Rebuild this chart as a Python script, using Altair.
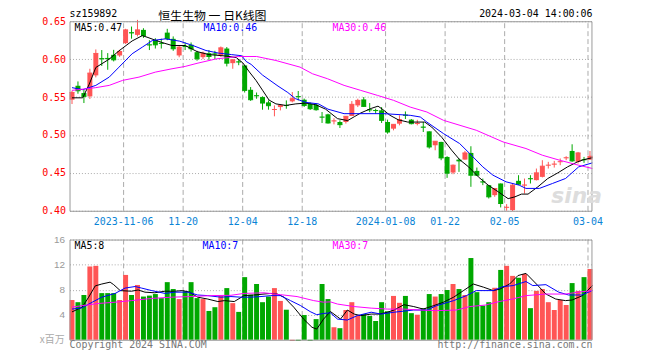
import altair as alt
import pandas as pd

# ---------------- data ----------------
opens = [0.5465, 0.5649, 0.5553, 0.5509, 0.5786, 0.6013, 0.6016, 0.6057, 0.6048, 0.6211,
         0.6354, 0.6320, 0.6386, 0.6193, 0.6254, 0.6214, 0.6350, 0.6268, 0.6049, 0.6174,
         0.6190, 0.6092, 0.6026, 0.6079, 0.6073, 0.6048, 0.6140, 0.5947, 0.5968, 0.5917,
         0.5596, 0.5523, 0.5500, 0.5430, 0.5330, 0.5368, 0.5392, 0.5443, 0.5510, 0.5465,
         0.5412, 0.5400, 0.5239, 0.5272, 0.5182, 0.5171, 0.5171, 0.5250, 0.5390, 0.5469,
         0.5336, 0.5328, 0.5325, 0.5171, 0.5083, 0.5149, 0.5266, 0.5202, 0.5147, 0.5108,
         0.5048, 0.4864, 0.4908, 0.4710, 0.4504, 0.4675, 0.4675, 0.4763, 0.4526, 0.4385,
         0.4338, 0.4206, 0.4360, 0.4042, 0.4009, 0.4395, 0.4336, 0.4428, 0.4404, 0.4447,
         0.4598, 0.4612, 0.4643, 0.4695, 0.4789, 0.4645, 0.4677, 0.4675]
closes = [0.5561, 0.5583, 0.5509, 0.5816, 0.6075, 0.6005, 0.6008, 0.5991, 0.6101, 0.6386,
          0.6346, 0.6386, 0.6311, 0.6187, 0.6189, 0.6208, 0.6270, 0.6137, 0.6158, 0.6168,
          0.6137, 0.6005, 0.6079, 0.6035, 0.6067, 0.6149, 0.5947, 0.5991, 0.5962, 0.5588,
          0.5465, 0.5517, 0.5421, 0.5386, 0.5336, 0.5390, 0.5388, 0.5478, 0.5505, 0.5390,
          0.5346, 0.5333, 0.5235, 0.5158, 0.5186, 0.5136, 0.5246, 0.5404, 0.5456, 0.5377,
          0.5330, 0.5322, 0.5193, 0.5039, 0.5140, 0.5202, 0.5260, 0.5149, 0.5151, 0.5102,
          0.4842, 0.4917, 0.4697, 0.4496, 0.4601, 0.4658, 0.4763, 0.4469, 0.4469, 0.4379,
          0.4184, 0.4294, 0.4096, 0.4046, 0.4338, 0.4351, 0.4340, 0.4422, 0.4500, 0.4588,
          0.4602, 0.4616, 0.4647, 0.4699, 0.4658, 0.4763, 0.4673, 0.4719]
highs = [0.5583, 0.5706, 0.5596, 0.5873, 0.6128, 0.6120, 0.6080, 0.6123, 0.6123, 0.6400,
         0.6430, 0.6518, 0.6408, 0.6250, 0.6276, 0.6270, 0.6400, 0.6300, 0.6175, 0.6220,
         0.6220, 0.6110, 0.6100, 0.6120, 0.6110, 0.6167, 0.6160, 0.6000, 0.6000, 0.5925,
         0.5632, 0.5560, 0.5510, 0.5456, 0.5390, 0.5400, 0.5456, 0.5566, 0.5580, 0.5480,
         0.5430, 0.5412, 0.5303, 0.5280, 0.5220, 0.5193, 0.5250, 0.5447, 0.5478, 0.5500,
         0.5421, 0.5346, 0.5368, 0.5202, 0.5140, 0.5259, 0.5310, 0.5210, 0.5200, 0.5171,
         0.5048, 0.4920, 0.4910, 0.4720, 0.4610, 0.4690, 0.4790, 0.4851, 0.4570, 0.4425,
         0.4338, 0.4294, 0.4360, 0.4088, 0.4360, 0.4469, 0.4425, 0.4469, 0.4557, 0.4667,
         0.4645, 0.4658, 0.4690, 0.4720, 0.4877, 0.4776, 0.4710, 0.4789]
lows = [0.5408, 0.5544, 0.5421, 0.5475, 0.5760, 0.5910, 0.5860, 0.5970, 0.6030, 0.6200,
        0.6270, 0.6300, 0.6280, 0.6120, 0.6140, 0.6140, 0.6250, 0.6110, 0.6025, 0.6120,
        0.6100, 0.5980, 0.6000, 0.5990, 0.6000, 0.6030, 0.5904, 0.5873, 0.5920, 0.5560,
        0.5450, 0.5478, 0.5333, 0.5333, 0.5246, 0.5324, 0.5346, 0.5430, 0.5456, 0.5370,
        0.5330, 0.5320, 0.5158, 0.5150, 0.5140, 0.5092, 0.5150, 0.5250, 0.5368, 0.5370,
        0.5300, 0.5280, 0.5158, 0.5017, 0.5061, 0.5127, 0.5210, 0.5140, 0.5127, 0.5039,
        0.4820, 0.4798, 0.4667, 0.4434, 0.4482, 0.4513, 0.4675, 0.4316, 0.4460, 0.4338,
        0.4162, 0.4184, 0.4044, 0.4000, 0.3996, 0.4340, 0.4228, 0.4360, 0.4400, 0.4440,
        0.4557, 0.4570, 0.4601, 0.4667, 0.4645, 0.4623, 0.4632, 0.4670]
vols = [6.35, 6.0, 7.15, 11.7, 11.8, 7.45, 7.45, 7.45, 6.35, 10.35,
        7.15, 8.75, 6.9, 7.05, 7.3, 6.65, 9.2, 8.1, 6.5, 7.75,
        9.2, 6.65, 6.5, 4.6, 5.2, 7.1, 8.25, 5.85, 4.45, 10.0,
        7.2, 8.9, 6.0, 6.9, 8.25, 6.2, 4.8, -0.2, -0.2, 3.95,
        -0.2, 3.3, 8.9, 6.5, 2.0, 1.85, 4.75, 6.0, 3.85, 4.1,
        3.8, 3.0, 6.0, 4.55, 7.0, 5.9, 7.0, 4.25, 4.0, 5.05,
        7.3, 6.9, 7.3, 7.95, 8.9, 8.1, 7.15, 13.05, 7.6, 5.45,
        6.0, 8.3, 11.15, 11.8, 10.2, 9.9, 10.5, 5.05, 7.8, 8.1,
        6.0, 4.75, 6.35, 5.55, 9.05, 7.8, 10.0, 11.3]

tick_idx = [9, 19, 29, 39, 53, 63, 73, 87]
tick_labels = ['2023-11-06', '11-20', '12-04', '12-18', '2024-01-08', '01-22', '02-05', '03-04']

# moving-average lines of price, sampled (candle position, value)
ma5_pos = [0, 1.8, 2.9, 4, 6.25, 7.9, 10.1, 11.8, 12.6, 14, 15.1, 16.8, 19, 21, 23, 26, 27.6, 28.7,
           29.8, 30.9, 32, 33.1, 34.25, 35.9, 37.6, 39.25, 40.9, 42.6, 44.6, 46.3, 47.4, 48.5,
           50.25, 51.4, 52.3, 53.4, 54.8, 56.4, 59.25, 60.4, 62.1, 63.75, 65.1, 66.6, 68.25,
           69.9, 71.6, 73.25, 74.4, 75.5, 76.6, 78.25, 79.9, 81.6, 83.25, 84.9, 86, 87.4]
ma5_val = [0.549, 0.549, 0.567, 0.589, 0.600, 0.611, 0.624, 0.631, 0.629, 0.625, 0.622, 0.618,
           0.618, 0.610, 0.606, 0.604, 0.602, 0.595, 0.583, 0.572, 0.559, 0.546, 0.541, 0.539,
           0.541, 0.542, 0.540, 0.534, 0.5215, 0.519, 0.524, 0.529, 0.535, 0.538, 0.533, 0.526,
           0.520, 0.517, 0.517, 0.5105, 0.497, 0.480, 0.4675, 0.458, 0.4447, 0.4338, 0.425,
           0.416, 0.4184, 0.422, 0.422, 0.4316, 0.4425, 0.450, 0.458, 0.4645, 0.4675, 0.470]
ma10_pos = [0, 1.8, 4, 6.25, 7.9, 10.1, 11.8, 13.5, 15.7, 18.1, 20.3, 22.5, 24.6, 26.8, 28.5,
            29.25, 30.1, 32, 34.6, 36.25, 37.5, 39.25, 41.4, 43, 45.7, 52.4, 56.8, 58.5, 59.6,
            62.4, 65.1, 66.8, 69, 70.7, 72.9, 75.1, 76.25, 78.5, 80.7, 82.9, 85.1, 87.4]
ma10_val = [0.5624, 0.5597, 0.5654, 0.5763, 0.5895, 0.6071, 0.6158, 0.6246, 0.6268, 0.6237,
            0.618, 0.6114, 0.608, 0.606, 0.6045, 0.597, 0.593, 0.579, 0.5645, 0.556, 0.548,
            0.543, 0.541, 0.534, 0.5281, 0.5281, 0.5259, 0.5237, 0.517, 0.5018, 0.4887,
            0.4755, 0.4579, 0.447, 0.4382, 0.4338, 0.4295, 0.4295, 0.436, 0.4426, 0.4579, 0.4632]
ma30_pos = [0, 4, 6.25, 8.5, 11.25, 14, 16.8, 19, 21, 24.25, 28, 31, 34.25, 38.3, 40.4, 42.9,
            45.7, 48.5, 51.3, 54, 56.8, 59.6, 62.4, 67.9, 72.4, 76.25, 79, 81.9, 85.1, 87.4]
ma30_val = [0.5588, 0.5624, 0.5654, 0.572, 0.5763, 0.5829, 0.5873, 0.5904, 0.5945, 0.6004,
            0.6035, 0.6035, 0.5982, 0.5895, 0.5807, 0.5742, 0.5654, 0.5588, 0.5522, 0.5457,
            0.5368, 0.5303, 0.5193, 0.5062, 0.4908, 0.4821, 0.4733, 0.4667, 0.4601, 0.4558]

# moving-average lines of volume (millions), sampled
vma5_pos = [0, 1.7, 2.8, 3.9, 5.0, 6.4, 7, 8.1, 10, 11.1, 12.25, 13.9, 15.6, 17.25, 18.6, 19.75,
            21.1, 22.8, 24.5, 25.6, 27.25, 28.9, 30.6, 32.25, 33.4, 34.5, 35.6, 37.25, 38.9,
            40.3, 41.1, 42.25, 43.4, 44, 45.1, 46.25, 47.4, 48.5, 50.25, 51.6, 53, 54.1, 55.75,
            57.4, 59, 60.75, 62.4, 64.1, 65.75, 67.4, 69.1, 70.75, 71.9, 73.5, 74.9, 76.25, 78,
            79.6, 81.25, 82.9, 84, 85.75, 87.4]
vma5_val = [4.45, 5.2, 6.8, 8.6, 8.9, 9.2, 8.8, 7.85, 7.75, 7.95, 7.6, 7.5, 7.75, 7.75, 7.85, 7.6,
            6.8, 6.5, 6.1, 6.25, 6.1, 7.05, 7.15, 7.3, 7.4, 7.3, 6.8, 5.2, 3.3, 2.0, 1.7, 3.3,
            4.5, 4.1, 3.3, 4.75, 4.1, 3.85, 4.1, 4.1, 4.4, 4.75, 5.6, 5.3, 4.9, 5.45, 6.0, 6.8,
            7.85, 8.9, 8.4, 7.85, 8.1, 8.9, 10.25, 10.6, 8.9, 7.3, 6.5, 6.25, 6.35, 7.05, 8.65]
vma10_pos = [0, 1.7, 3.4, 5, 7.25, 8.9, 10.6, 11.7, 13.4, 15.6, 17.25, 19.5, 21.1, 22.8, 25, 26.7,
             28.4, 30, 31.75, 33.4, 35, 36.7, 38.4, 40, 41.1, 42.25, 43.4, 44.6, 46.25, 47.9,
             50.25, 51.9, 54.1, 57.4, 59.6, 61.25, 64.1, 66.25, 67.9, 70.75, 72.4, 74.1, 76.25,
             77.4, 79.6, 81.75, 83.4, 85.6, 87.4]
vma10_val = [4.9, 5.1, 6.0, 6.8, 7.4, 8.25, 8.5, 8.25, 7.85, 7.4, 7.6, 7.6, 7.15, 7.05, 6.8, 6.9,
             6.8, 6.8, 6.9, 7.05, 7.05, 6.25, 5.45, 4.5, 4.0, 4.2, 4.3, 3.3, 3.15, 3.85, 4.4, 4.1,
             4.4, 4.75, 4.75, 5.45, 6.25, 7.05, 7.85, 7.85, 8.5, 8.65, 9.3, 8.65, 8.8, 7.6, 7.15,
             7.15, 7.85]
vma30_pos = [0, 1.7, 4.5, 7.25, 10, 13.4, 16.75, 20, 23.4, 26.7, 28.9, 32.25, 35, 37.8, 40.6,
             42.25, 43.4, 44.6, 47.4, 50.25, 53, 55.75, 58.5, 61.25, 64.6, 66.8, 69.5, 71.75,
             74, 76.25, 79.6, 82.9, 85, 87.4]
vma30_val = [5.2, 5.45, 5.8, 6.0, 6.25, 6.6, 6.8, 6.9, 7.05, 7.1, 7.4, 7.5, 7.2, 6.9, 6.25, 6.0,
             6.05, 5.7, 5.3, 5.05, 4.9, 4.9, 4.75, 4.65, 4.75, 5.3, 5.55, 6.1, 6.5, 7.05, 7.3,
             7.3, 7.6, 7.85]

# ---------------- styling ----------------
RED, GREEN = '#ff5555', '#00a800'
MONO = 'DejaVu Sans Mono'
GRIDC = '#aaaaaa'
W, H = 527, 321            # plot area (both panels)
PRICE_DOM = [0.40, 0.65]
VOL_DOM = [0, 16]

X = alt.Scale(domain=[0, W / 6], nice=False, zero=False)
PY = alt.Scale(domain=PRICE_DOM, range=[191, 0], nice=False, zero=False)
VY = alt.Scale(domain=VOL_DOM, range=[321, 220], nice=False, zero=False)

df = pd.DataFrame({'idx': list(range(len(opens))), 'open': opens, 'close': closes,
                   'high': highs, 'low': lows, 'vol': vols})

base = alt.Chart(df).transform_calculate(
    x1='datum.idx + 5/6', xc='datum.idx + 2.5/6', zero='0',
    dir="datum.close >= datum.open ? 'up' : 'down'")
color = alt.Color('dir:N', scale=alt.Scale(domain=['up', 'down'], range=[RED, GREEN]), legend=None)

label_expr = ('[' + ','.join("'%s'" % t for t in tick_labels) + '][indexof(['
              + ','.join(str(t) for t in tick_idx) + '], datum.value)]')
xaxis = alt.Axis(values=tick_idx, labelExpr=label_expr, orient='bottom', offset=-130,
                 domain=False, ticks=False, grid=False, labelColor='#0a84d6', labelFont=MONO,
                 labelFontSize=10, labelPadding=6, labelFlush=False, labelOverlap=False, title=None)
paxis = alt.Axis(values=[0.40, 0.45, 0.50, 0.55, 0.60, 0.65], format='.2f', orient='left',
                 labelColor='#ff0000', labelFont=MONO, labelFontSize=10, labelPadding=4,
                 ticks=False, domain=False, grid=True, gridColor=GRIDC, gridDash=[1, 2], title=None)
vaxis = alt.Axis(values=[4, 8, 12, 16], orient='left', labelColor='#999999',
                 labelFont='Liberation Sans', labelFontSize=10, labelPadding=5, ticks=False,
                 domain=False, grid=True, gridColor=GRIDC, gridDash=[1, 2], title=None)

# vertical dashed grid lines for both panels
gdf = pd.DataFrame({'idx': tick_idx})
grid_base = alt.Chart(gdf).transform_calculate(
    gx='datum.idx + 1/12', p0=str(PRICE_DOM[0]), p1=str(PRICE_DOM[1]),
    v0=str(VOL_DOM[0]), v1=str(VOL_DOM[1]))
vgrid_p = grid_base.mark_rule(color=GRIDC, strokeDash=[5, 3], strokeWidth=1).encode(
    x=alt.X('gx:Q', scale=X, axis=None), y=alt.Y('p0:Q', scale=PY, axis=None), y2=alt.Y2('p1'))
vgrid_v = grid_base.mark_rule(color=GRIDC, strokeDash=[5, 3], strokeWidth=1).encode(
    x=alt.X('gx:Q', scale=X, axis=None), y=alt.Y('v0:Q', scale=VY, axis=None), y2=alt.Y2('v1'))

body = base.mark_rect().encode(
    x=alt.X('idx:Q', scale=X, axis=xaxis), x2=alt.X2('x1'),
    y=alt.Y('open:Q', scale=PY, axis=paxis), y2=alt.Y2('close'), color=color)
wick = base.mark_rule(strokeWidth=1).encode(
    x=alt.X('xc:Q', scale=X, axis=None),
    y=alt.Y('low:Q', scale=PY, axis=None), y2=alt.Y2('high'), color=color)
ctick = base.mark_rule(strokeWidth=1).encode(
    x=alt.X('idx:Q', scale=X, axis=None), x2=alt.X2('x1'),
    y=alt.Y('close:Q', scale=PY, axis=None), color=color)
vbar = base.mark_rect().encode(
    x=alt.X('idx:Q', scale=X, axis=None), x2=alt.X2('x1'),
    y=alt.Y('vol:Q', scale=VY, axis=vaxis), y2=alt.Y2('zero'), color=color)

ma_colors = alt.Scale(domain=['MA5', 'MA10', 'MA30'], range=['#000000', '#0000ff', '#ff00ff'])
pma = pd.DataFrame({'i': ma5_pos + ma10_pos + ma30_pos, 'v': ma5_val + ma10_val + ma30_val,
                    's': ['MA5'] * len(ma5_pos) + ['MA10'] * len(ma10_pos) + ['MA30'] * len(ma30_pos)})
vma = pd.DataFrame({'i': vma5_pos + vma10_pos + vma30_pos, 'v': vma5_val + vma10_val + vma30_val,
                    's': ['MA5'] * len(vma5_pos) + ['MA10'] * len(vma10_pos) + ['MA30'] * len(vma30_pos)})
pma_line = alt.Chart(pma).transform_calculate(xc='datum.i + 2.5/6').mark_line(strokeWidth=1).encode(
    x=alt.X('xc:Q', scale=X, axis=None), y=alt.Y('v:Q', scale=PY, axis=None),
    color=alt.Color('s:N', scale=ma_colors, legend=None), detail='s:N')
vma_line = alt.Chart(vma).transform_calculate(xc='datum.i + 2.5/6').mark_line(strokeWidth=1).encode(
    x=alt.X('xc:Q', scale=X, axis=None), y=alt.Y('v:Q', scale=VY, axis=None),
    color=alt.Color('s:N', scale=ma_colors, legend=None), detail='s:N')

one = pd.DataFrame({'a': [0]})
def frame(y0, y1):
    return alt.Chart(one).mark_rect(fillOpacity=0, stroke='#999999', strokeWidth=1).encode(
        x=alt.value(0.5), x2=alt.value(W - 0.5), y=alt.value(y0), y2=alt.value(y1))

def label(text, x, y, color='#000000', size=10, align='left', font=MONO, **kw):
    return alt.Chart(pd.DataFrame({'t': [text]})).mark_text(
        align=align, baseline='middle', font=font, fontSize=size, color=color, **kw
    ).encode(x=alt.value(x), y=alt.value(y), text='t:N')

texts = [
    label('sina', 511, 176, color='#dddddd', size=22, align='center', font='DejaVu Sans',
          fontWeight='bold', fontStyle='italic'),
    label('sz159892', 0, -7),
    label('恒生生物 一 日K线图', 144, -5, size=12, align='center', font='Noto Sans CJK SC'),
    label('2024-03-04 14:00:06', W, -7, align='right'),
    label('MA5:0.47', 5, 6.5),
    label('MA10:0.46', 135, 6.5, color='#0000ff'),
    label('MA30:0.46', 265, 6.5, color='#ff00ff'),
    label('MA5:8', 5, 227),
    label('MA10:7', 134, 227, color='#0000ff'),
    label('MA30:7', 265, 227, color='#ff00ff'),
    label('x百万', -5, 321, color='#aaaaaa', size=10, align='right', font='Noto Sans CJK SC'),
    label('Copyright 2024 SINA.COM', 0, 326, color='#777777'),
    label('http://finance.sina.com.cn', W, 326, color='#777777', align='right'),
]

chart = alt.layer(
    vgrid_p, vgrid_v, body, wick, ctick, vbar, pma_line, vma_line,
    frame(0.5, 191.5), frame(220.5, 321.5), *texts
).resolve_scale(y='independent', color='independent').resolve_axis(
    x='independent', y='independent'
).properties(
    width=W, height=H,
    autosize=alt.AutoSizeParams(type='none'),
    padding={'left': 62, 'top': 12, 'right': 60, 'bottom': 14},
).configure_view(stroke=None)

chart.save('out.html', embed_options={'renderer': 'svg', 'actions': False})
